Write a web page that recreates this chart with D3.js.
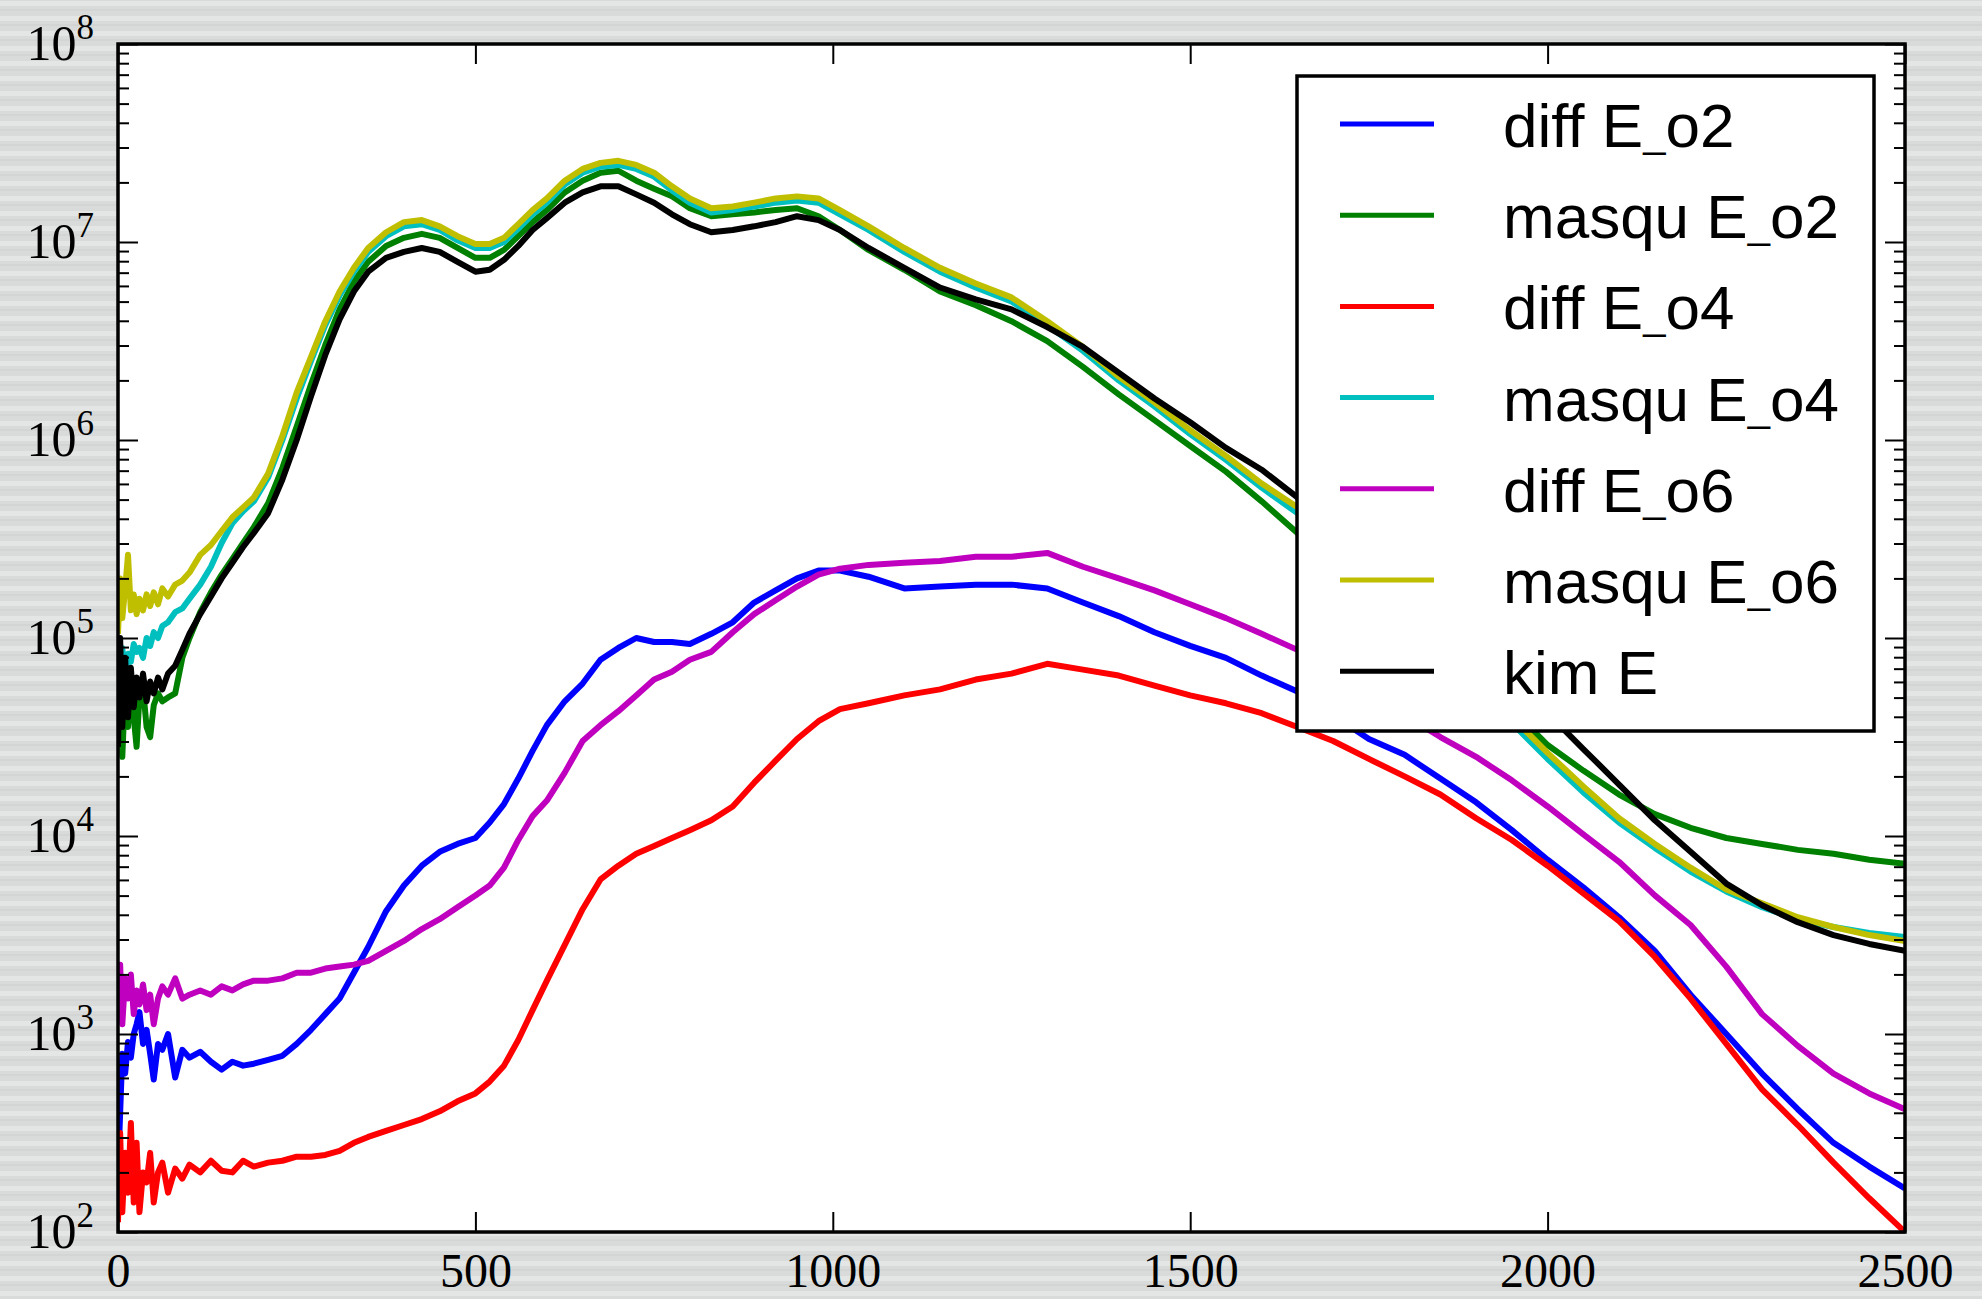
<!DOCTYPE html>
<html>
<head>
<meta charset="utf-8">
<script src="https://cdn.jsdelivr.net/npm/d3@7"></script>
<style>
  body { margin: 0; background: #dcdedd; }
  svg { display: block; }
</style>
</head>
<body>
<svg id="drawing_region"></svg>
<script>
// sample positions (x axis)
const steps = [0,3,6,10,14,18,22,26,30,35,
  40,45,50,56,62,70,80,90,100,115,
  130,145,160,175,190,210,230,250,270,290,
  310,330,350,375,400,425,450,475,500,520,
  540,560,580,600,625,650,675,700,725,750,
  775,800,830,860,890,920,950,980,1010,1050,
  1100,1150,1200,1250,1300,1350,1400,1450,1500,1550,
  1600,1650,1700,1750,1800,1850,1900,1950,2000,2050,
  2100,2150,2200,2250,2300,2350,2400,2450,2500];

const diffO2 = [2.00e2,3.98e2,7.94e2,6.31e2,9.12e2,7.59e2,1.00e3,1.12e3,1.29e3,8.91e2,
  1.05e3,7.94e2,5.89e2,8.91e2,8.32e2,1.00e3,6.03e2,8.32e2,7.59e2,8.13e2,
  7.24e2,6.61e2,7.24e2,6.92e2,7.08e2,7.41e2,7.76e2,8.91e2,1.05e3,1.26e3,
  1.51e3,2.04e3,2.75e3,4.17e3,5.62e3,7.08e3,8.32e3,9.12e3,9.77e3,1.17e4,
  1.45e4,1.95e4,2.69e4,3.63e4,4.79e4,5.89e4,7.76e4,8.91e4,1.00e5,9.55e4,
  9.55e4,9.33e4,1.05e5,1.20e5,1.51e5,1.74e5,2.00e5,2.19e5,2.19e5,2.04e5,
  1.78e5,1.82e5,1.86e5,1.86e5,1.78e5,1.51e5,1.29e5,1.07e5,9.12e4,7.94e4,
  6.46e4,5.37e4,4.07e4,3.09e4,2.57e4,1.95e4,1.48e4,1.07e4,7.59e3,5.50e3,
  3.89e3,2.63e3,1.58e3,1.00e3,6.31e2,4.17e2,2.82e2,2.14e2,1.66e2];

const masquO2 = [3.16e4,7.08e4,2.51e4,5.62e4,3.55e4,6.31e4,3.98e4,2.82e4,5.01e4,5.62e4,
  3.55e4,3.16e4,4.57e4,5.25e4,4.79e4,5.01e4,5.25e4,7.94e4,1.00e5,1.35e5,
  1.70e5,2.09e5,2.51e5,3.02e5,3.63e5,4.79e5,7.24e5,1.17e6,1.91e6,3.02e6,
  4.57e6,6.31e6,7.94e6,9.55e6,1.05e7,1.10e7,1.05e7,9.33e6,8.32e6,8.32e6,
  9.12e6,1.07e7,1.26e7,1.45e7,1.78e7,2.04e7,2.24e7,2.29e7,2.04e7,1.86e7,
  1.70e7,1.48e7,1.35e7,1.38e7,1.41e7,1.45e7,1.48e7,1.35e7,1.15e7,9.12e6,
  7.24e6,5.62e6,4.79e6,3.98e6,3.16e6,2.34e6,1.70e6,1.26e6,9.33e5,6.92e5,
  4.90e5,3.39e5,2.45e5,1.78e5,1.29e5,9.33e4,6.61e4,4.37e4,2.88e4,2.14e4,
  1.62e4,1.29e4,1.10e4,9.77e3,9.12e3,8.51e3,8.13e3,7.59e3,7.24e3];

const diffO4 = [1.12e2,3.16e2,1.26e2,2.51e2,1.58e2,3.55e2,1.41e2,2.82e2,1.26e2,2.00e2,
  1.78e2,2.51e2,1.41e2,2.00e2,2.24e2,1.58e2,2.09e2,1.86e2,2.19e2,2.00e2,
  2.29e2,2.04e2,2.00e2,2.29e2,2.14e2,2.24e2,2.29e2,2.40e2,2.40e2,2.45e2,
  2.57e2,2.82e2,3.02e2,3.24e2,3.47e2,3.72e2,4.07e2,4.57e2,5.01e2,5.75e2,
  6.92e2,9.33e2,1.32e3,1.86e3,2.82e3,4.27e3,6.03e3,7.08e3,8.13e3,8.91e3,
  9.77e3,1.07e4,1.20e4,1.41e4,1.86e4,2.40e4,3.09e4,3.80e4,4.37e4,4.68e4,
  5.13e4,5.50e4,6.17e4,6.61e4,7.41e4,6.92e4,6.46e4,5.75e4,5.13e4,4.68e4,
  4.17e4,3.55e4,3.02e4,2.45e4,2.00e4,1.62e4,1.23e4,9.55e3,7.08e3,5.13e3,
  3.72e3,2.45e3,1.51e3,8.91e2,5.25e2,3.47e2,2.24e2,1.48e2,1.00e2];

const masquO4 = [7.08e4,5.62e4,8.91e4,6.31e4,8.32e4,7.59e4,9.33e4,8.51e4,8.91e4,7.94e4,
  1.00e5,9.12e4,1.07e5,1.00e5,1.15e5,1.20e5,1.35e5,1.41e5,1.58e5,1.86e5,
  2.29e5,3.02e5,3.80e5,4.37e5,4.90e5,6.46e5,1.00e6,1.62e6,2.51e6,3.80e6,
  5.37e6,7.08e6,8.91e6,1.07e7,1.20e7,1.23e7,1.15e7,1.02e7,9.33e6,9.33e6,
  1.00e7,1.17e7,1.38e7,1.58e7,1.95e7,2.24e7,2.40e7,2.45e7,2.34e7,2.14e7,
  1.82e7,1.58e7,1.41e7,1.45e7,1.51e7,1.58e7,1.62e7,1.58e7,1.38e7,1.15e7,
  8.91e6,7.08e6,5.89e6,5.01e6,3.80e6,2.82e6,2.00e6,1.48e6,1.07e6,7.94e5,
  5.75e5,4.27e5,2.95e5,2.04e5,1.38e5,9.12e4,5.75e4,3.72e4,2.45e4,1.66e4,
  1.17e4,8.71e3,6.61e3,5.25e3,4.37e3,3.80e3,3.47e3,3.24e3,3.09e3];

const diffO6 = [1.26e3,2.24e3,1.12e3,1.91e3,1.51e3,2.00e3,1.26e3,1.66e3,1.41e3,1.78e3,
  1.32e3,1.58e3,1.12e3,1.51e3,1.74e3,1.58e3,1.91e3,1.51e3,1.58e3,1.66e3,
  1.58e3,1.74e3,1.66e3,1.78e3,1.86e3,1.86e3,1.91e3,2.04e3,2.04e3,2.14e3,
  2.19e3,2.24e3,2.34e3,2.63e3,2.95e3,3.39e3,3.80e3,4.37e3,5.01e3,5.62e3,
  6.92e3,9.55e3,1.26e4,1.51e4,2.09e4,3.02e4,3.63e4,4.27e4,5.13e4,6.17e4,
  6.76e4,7.76e4,8.51e4,1.07e5,1.32e5,1.55e5,1.82e5,2.09e5,2.24e5,2.34e5,
  2.40e5,2.45e5,2.57e5,2.57e5,2.69e5,2.29e5,2.00e5,1.74e5,1.48e5,1.26e5,
  1.05e5,8.71e4,6.92e4,5.37e4,4.07e4,3.16e4,2.51e4,1.91e4,1.41e4,1.02e4,
  7.41e3,5.01e3,3.55e3,2.19e3,1.26e3,8.71e2,6.31e2,5.01e2,4.17e2];

const masquO6 = [1.05e5,2.00e5,1.26e5,1.78e5,2.63e5,1.38e5,1.66e5,1.32e5,1.58e5,1.38e5,
  1.66e5,1.45e5,1.70e5,1.48e5,1.78e5,1.62e5,1.86e5,1.95e5,2.14e5,2.63e5,
  2.95e5,3.47e5,4.07e5,4.57e5,5.13e5,6.76e5,1.05e6,1.74e6,2.63e6,3.98e6,
  5.62e6,7.41e6,9.33e6,1.12e7,1.26e7,1.29e7,1.20e7,1.07e7,9.77e6,9.77e6,
  1.05e7,1.23e7,1.45e7,1.66e7,2.04e7,2.34e7,2.51e7,2.57e7,2.45e7,2.24e7,
  1.91e7,1.66e7,1.48e7,1.51e7,1.58e7,1.66e7,1.70e7,1.66e7,1.45e7,1.20e7,
  9.33e6,7.41e6,6.17e6,5.25e6,3.98e6,2.95e6,2.09e6,1.55e6,1.12e6,8.32e5,
  6.03e5,4.57e5,3.16e5,2.19e5,1.48e5,9.77e4,6.17e4,3.98e4,2.63e4,1.78e4,
  1.23e4,9.12e3,6.92e3,5.37e3,4.57e3,3.89e3,3.47e3,3.16e3,2.95e3];

const kimE = [2.82e4,1.00e5,3.55e4,7.94e4,3.98e4,7.08e4,4.47e4,6.31e4,5.01e4,6.61e4,
  4.79e4,6.03e4,5.25e4,6.31e4,5.50e4,6.61e4,7.24e4,8.71e4,1.05e5,1.32e5,
  1.62e5,2.00e5,2.40e5,2.88e5,3.39e5,4.27e5,6.31e5,1.00e6,1.66e6,2.69e6,
  4.07e6,5.62e6,7.08e6,8.32e6,8.91e6,9.33e6,8.91e6,7.94e6,7.08e6,7.24e6,
  8.13e6,9.55e6,1.15e7,1.32e7,1.58e7,1.78e7,1.91e7,1.91e7,1.74e7,1.58e7,
  1.38e7,1.23e7,1.12e7,1.15e7,1.20e7,1.26e7,1.35e7,1.29e7,1.15e7,9.33e6,
  7.41e6,5.89e6,5.13e6,4.57e6,3.72e6,2.95e6,2.19e6,1.62e6,1.23e6,9.12e5,
  7.08e5,5.13e5,3.72e5,2.63e5,1.86e5,1.29e5,8.91e4,6.17e4,4.17e4,2.75e4,
  1.82e4,1.20e4,8.32e3,5.75e3,4.47e3,3.67e3,3.16e3,2.85e3,2.63e3];

const seriesNames = ['diff E_o2', 'masqu E_o2', 'diff E_o4', 'masqu E_o4', 'diff E_o6', 'masqu E_o6', 'kim E'];
const seriesValues = [diffO2, masquO2, diffO4, masquO4, diffO6, masquO6, kimE];
const seriesColors = ['#0000ff', '#008000', '#ff0000', '#00bfbf', '#bf00bf', '#bfbf00', '#000000'];

const xTicks = [0, 500, 1000, 1500, 2000, 2500];
const yTicks = [1e2, 1e3, 1e4, 1e5, 1e6, 1e7, 1e8];

class LogLineChart {

    constructor( config ) {
        this.config = {
            parent: config.parent,
            width: config.width || 1982,
            height: config.height || 1299,
            margin: config.margin
        };
        this.init();
    }

    init() {
        let self = this;
        const m = self.config.margin;

        self.svg = d3.select(self.config.parent)
            .attr('width', self.config.width)
            .attr('height', self.config.height);

        // striped backdrop
        const defs = self.svg.append('defs');
        const pat = defs.append('pattern')
            .attr('id', 'stripes')
            .attr('patternUnits', 'userSpaceOnUse')
            .attr('width', 40).attr('height', 15);
        pat.append('rect').attr('width', 40).attr('height', 15).attr('fill', '#d9dbda');
        pat.append('rect').attr('y', 1).attr('width', 40).attr('height', 5).attr('fill', '#e4e6e5');
        pat.append('rect').attr('y', 9).attr('width', 40).attr('height', 2).attr('fill', '#d3d5d4');

        defs.append('clipPath').attr('id', 'plotclip')
            .append('rect')
            .attr('x', m.left).attr('y', m.top)
            .attr('width', self.config.width - m.left - m.right)
            .attr('height', self.config.height - m.top - m.bottom);

        self.svg.append('rect')
            .attr('width', self.config.width)
            .attr('height', self.config.height)
            .attr('fill', 'url(#stripes)');

        self.x0 = m.left;
        self.x1 = self.config.width - m.right;
        self.y0 = m.top;
        self.y1 = self.config.height - m.bottom;

        self.svg.append('rect')
            .attr('x', self.x0).attr('y', self.y0)
            .attr('width', self.x1 - self.x0).attr('height', self.y1 - self.y0)
            .attr('fill', '#ffffff');

        self.xscale = d3.scaleLinear()
            .domain([0, 2500])
            .range([self.x0, self.x1]);
        self.yscale = d3.scaleLog()
            .domain([1e2, 1e8])
            .range([self.y1, self.y0]);
    }

    render() {
        let self = this;

        const line = d3.line()
            .x((d, i) => self.xscale(steps[i]))
            .y(d => self.yscale(d));

        self.svg.append('g')
            .attr('clip-path', 'url(#plotclip)')
            .selectAll('path')
            .data(seriesValues)
            .enter()
            .append('path')
            .attr('d', d => line(d))
            .attr('fill', 'none')
            .attr('stroke', (d, i) => seriesColors[i])
            .attr('stroke-width', 6)
            .attr('stroke-linejoin', 'round');

        self.renderAxes();
        self.renderLegend();
    }

    renderAxes() {
        let self = this;

        const minor = [];
        for (let e = 2; e < 8; e++) {
            for (let k = 2; k <= 9; k++) minor.push(k * Math.pow(10, e));
        }

        const styleTicks = g => {
            g.select('.domain').remove();
            g.selectAll('.tick line').attr('stroke', '#000').attr('stroke-width', 2);
        };

        // x axes (bottom with labels, top plain)
        const xb = self.svg.append('g')
            .attr('transform', `translate(0, ${self.y1})`)
            .call(d3.axisBottom(self.xscale).tickValues(xTicks).tickSize(-20)
                .tickPadding(21).tickFormat(d3.format('d')))
            .call(styleTicks);
        xb.selectAll('.tick text')
            .attr('fill', '#000')
            .attr('font-family', '"Liberation Serif", "DejaVu Serif", serif')
            .attr('font-size', 48);

        self.svg.append('g')
            .attr('transform', `translate(0, ${self.y0})`)
            .call(d3.axisTop(self.xscale).tickValues(xTicks).tickSize(-20).tickFormat(''))
            .call(styleTicks);

        // y axes: major with labels, minor ticks on both sides
        const yl = self.svg.append('g')
            .attr('transform', `translate(${self.x0}, 0)`)
            .call(d3.axisLeft(self.yscale).tickValues(yTicks).tickSize(-20))
            .call(styleTicks);
        yl.selectAll('.tick text')
            .attr('x', -24).attr('y', 15).attr('dy', null)
            .attr('fill', '#000')
            .attr('font-family', '"Liberation Serif", "DejaVu Serif", serif')
            .attr('font-size', 50)
            .text(null)
            .each(function(d) {
                const t = d3.select(this);
                t.append('tspan').text('10');
                t.append('tspan').attr('dy', -21).attr('font-size', 35)
                    .text(Math.round(Math.log10(d)));
            });

        self.svg.append('g')
            .attr('transform', `translate(${self.x0}, 0)`)
            .call(d3.axisLeft(self.yscale).tickValues(minor).tickSize(-11).tickFormat(''))
            .call(styleTicks);

        self.svg.append('g')
            .attr('transform', `translate(${self.x1}, 0)`)
            .call(d3.axisRight(self.yscale).tickValues(yTicks).tickSize(-20).tickFormat(''))
            .call(styleTicks);
        self.svg.append('g')
            .attr('transform', `translate(${self.x1}, 0)`)
            .call(d3.axisRight(self.yscale).tickValues(minor).tickSize(-11).tickFormat(''))
            .call(styleTicks);

        // frame
        self.svg.append('rect')
            .attr('x', self.x0).attr('y', self.y0)
            .attr('width', self.x1 - self.x0).attr('height', self.y1 - self.y0)
            .attr('fill', 'none')
            .attr('stroke', '#000')
            .attr('stroke-width', 3.5);
    }

    renderLegend() {
        let self = this;

        const lg = self.svg.append('g').attr('transform', 'translate(1297, 76)');
        lg.append('rect')
            .attr('width', 577).attr('height', 655)
            .attr('fill', '#ffffff')
            .attr('stroke', '#000')
            .attr('stroke-width', 3.5);

        const item = lg.selectAll('.item')
            .data(seriesNames)
            .enter()
            .append('g')
            .attr('transform', (d, i) => `translate(0, ${48 + i * 91.2})`);

        item.append('line')
            .attr('x1', 43).attr('x2', 137)
            .attr('stroke', (d, i) => seriesColors[i])
            .attr('stroke-width', 5);

        item.append('text')
            .attr('x', 206).attr('y', 23)
            .attr('font-family', '"Liberation Sans", Arial, sans-serif')
            .attr('font-size', 62)
            .attr('fill', '#000')
            .each(function(d) {
                const t = d3.select(this);
                const parts = d.split('_');
                t.append('tspan').text(parts[0]);
                if (parts.length > 1) {
                    t.append('tspan').attr('font-size', 40).text('_');
                    t.append('tspan').text(parts[1]);
                }
            });
    }
}

const chart = new LogLineChart({
    parent: '#drawing_region',
    width: 1982,
    height: 1299,
    margin: { top: 44, right: 77, bottom: 67, left: 118 }
});
chart.render();
</script>
</body>
</html>
